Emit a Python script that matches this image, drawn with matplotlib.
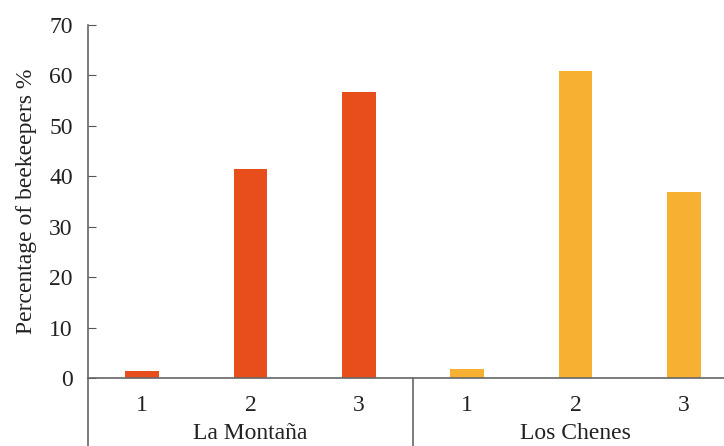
import matplotlib.pyplot as plt
from matplotlib.transforms import blended_transform_factory

plt.rcParams['font.family'] = ['Liberation Serif', 'DejaVu Serif']

regions = ['La Montaña', 'Los Chenes']
levels = ['1', '2', '3']
montana = [1.4, 41.5, 56.8]
chenes = [1.8, 60.9, 36.9]
colors = ['#E84E1C', '#F7B032']

fig = plt.figure(figsize=(7.24, 4.46), dpi=100)
ax = fig.add_axes([88 / 724, 1 - 378 / 446, (724 - 88) / 724, (378 - 25) / 446])

x1 = [0, 1, 2]
x2 = [3, 4, 5]
ax.bar(x1, montana, width=0.31, color=colors[0])
ax.bar(x2, chenes, width=0.31, color=colors[1])

ax.set_xlim(-0.5, 5.37)
ax.set_ylim(0, 70)
ax.set_yticks(range(0, 71, 10))
ax.tick_params(axis='y', direction='in', length=6, color='#555555', labelsize=17,
               labelcolor='#222222', pad=11)
ax.set_xticks(x1 + x2)
ax.set_xticklabels(levels + levels)
ax.tick_params(axis='x', length=0, labelsize=17, labelcolor='#222222', pad=12)
ax.set_ylabel('Percentage of beekeepers %', fontsize=17, color='#222222', labelpad=9)

for s in ['top', 'right']:
    ax.spines[s].set_visible(False)
for s in ['left', 'bottom']:
    ax.spines[s].set_color('#666666')
    ax.spines[s].set_linewidth(1.2)

# group separators below the axis
tr = blended_transform_factory(ax.transData, ax.transAxes)
for xs in [-0.5, 2.5]:
    ax.plot([xs, xs], [0, -0.2], transform=tr, color='#666666', lw=1.2, clip_on=False)
for xc, name in zip([1, 4], regions):
    ax.text(xc, -0.158, name, transform=tr, ha='center', va='center', fontsize=17,
            color='#222222')

fig.savefig('out.png', dpi=100)
